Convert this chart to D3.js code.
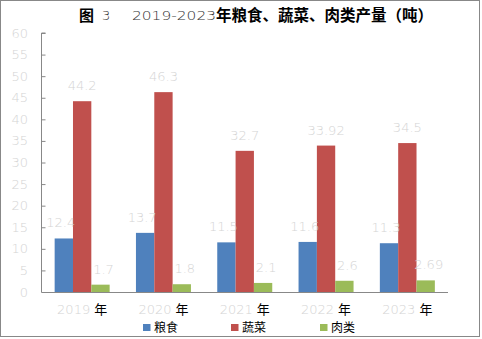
<!DOCTYPE html>
<html><head><meta charset="utf-8">
<script src="https://cdn.jsdelivr.net/npm/d3@7"></script>
<style>body{margin:0;background:#fff}svg{display:block}</style>
</head><body>
<script>
const years = ["2019", "2020", "2021", "2022", "2023"];
const seriesNames = ["粮食", "蔬菜", "肉类"];
const grain = [12.4, 13.7, 11.5, 11.6, 11.3];
const veg = [44.2, 46.3, 32.7, 33.92, 34.5];
const meat = [1.7, 1.8, 2.1, 2.6, 2.69];
const yTicks = [0, 5, 10, 15, 20, 25, 30, 35, 40, 45, 50, 55, 60];
const colors = ["#4f81bd", "#c0504d", "#9bbb59"];
const series = [grain, veg, meat];

const W = 482, H = 339;
const svg = d3.select("body").append("svg").attr("width", W).attr("height", H);
svg.append("rect").attr("x", 0.5).attr("y", 0.5).attr("width", 479).attr("height", 336)
  .attr("fill", "#fff").attr("stroke", "#888");

const light = "#d4d4d4";
const numFont = "'DejaVu Sans', sans-serif";

// title
const tf = "'Noto Sans CJK SC', sans-serif";
svg.append("text").attr("x", 79).attr("y", 21).attr("font-family", tf).attr("font-weight", "bold")
  .attr("font-size", 15).attr("fill", "#000").text("图");
svg.append("text").attr("x", 102).attr("y", 20).attr("font-family", numFont).attr("font-weight", 200)
  .attr("font-size", 13).attr("fill", "#333").text("3");
svg.append("text").attr("x", 132).attr("y", 20).attr("font-family", numFont).attr("font-weight", 200)
  .attr("font-size", 13).attr("fill", "#333").attr("textLength", 84).attr("lengthAdjust", "spacingAndGlyphs").text("2019-2023");
svg.append("text").attr("x", 216).attr("y", 21).attr("font-family", tf).attr("font-weight", "bold")
  .attr("font-size", 15.5).attr("fill", "#000").text("年粮食、蔬菜、肉类产量（吨）");

const x0 = 41.5, x1 = 448, yTop = 33, yBot = 292;
const x = d3.scaleBand().domain(years).range([x0, x1]).paddingInner(0).paddingOuter(0);
const y = d3.scaleLinear().domain([0, 60]).range([yBot, yTop]);
const groupW = 55;
const xs = d3.scaleBand().domain(seriesNames).range([0, groupW]);
const labelShift = [-3, 0, 3];

// y axis
const yAxis = d3.axisRight(y).tickValues(yTicks).tickSize(4).tickFormat("");
const gy = svg.append("g").attr("transform", `translate(${x0},0)`).call(yAxis);
gy.select(".domain").attr("stroke", "#888").attr("d", `M4,${yTop}H0V${yBot}`);
gy.selectAll(".tick line").attr("stroke", "#888");
svg.append("g").selectAll("text").data(yTicks).join("text")
  .attr("x", 28).attr("y", d => y(d) + 4.5).attr("text-anchor", "end")
  .attr("font-family", numFont).attr("font-weight", 200).attr("font-size", 13).attr("fill", light)
  .text(d => d);

// bars
const barX = (si, i) => x(years[i]) + (x.bandwidth() - groupW) / 2 + xs(seriesNames[si]);
series.forEach((vals, si) => {
  svg.append("g").selectAll("rect").data(vals).join("rect")
    .attr("x", (d, i) => barX(si, i))
    .attr("y", d => y(d)).attr("width", xs.bandwidth()).attr("height", d => yBot - y(d))
    .attr("fill", colors[si]);
});
// labels on top
series.forEach((vals, si) => {
  svg.append("g").selectAll("text").data(vals).join("text")
    .attr("x", (d, i) => barX(si, i) + xs.bandwidth() / 2 + labelShift[si])
    .attr("y", d => y(d) - 11)
    .attr("text-anchor", "middle").attr("font-family", numFont).attr("font-weight", 200)
    .attr("font-size", 13).attr("fill", light).text(d => d);
});

// x axis
svg.append("line").attr("x1", x0).attr("x2", x1).attr("y1", yBot + 0.5).attr("y2", yBot + 0.5).attr("stroke", "#888");
const xl = svg.append("g").selectAll("text").data(years).join("text")
  .attr("x", d => x(d) + x.bandwidth() / 2).attr("y", 314).attr("text-anchor", "middle")
  .attr("font-size", 13);
xl.append("tspan").attr("font-family", numFont).attr("font-weight", 200).attr("fill", light).text(d => d);
xl.append("tspan").attr("font-family", tf).attr("fill", "#000").attr("dx", 4).text("年");

// legend
const legX = [143, 231, 320];
const lg = svg.append("g").selectAll("g").data(seriesNames).join("g")
  .attr("transform", (d, i) => `translate(${legX[i]},324)`);
lg.append("rect").attr("width", 7.5).attr("height", 7).attr("fill", (d, i) => colors[i]);
lg.append("text").attr("x", 11).attr("y", 8).attr("font-family", tf).attr("font-size", 12).attr("fill", "#000").text(d => d);
</script>
</body></html>
